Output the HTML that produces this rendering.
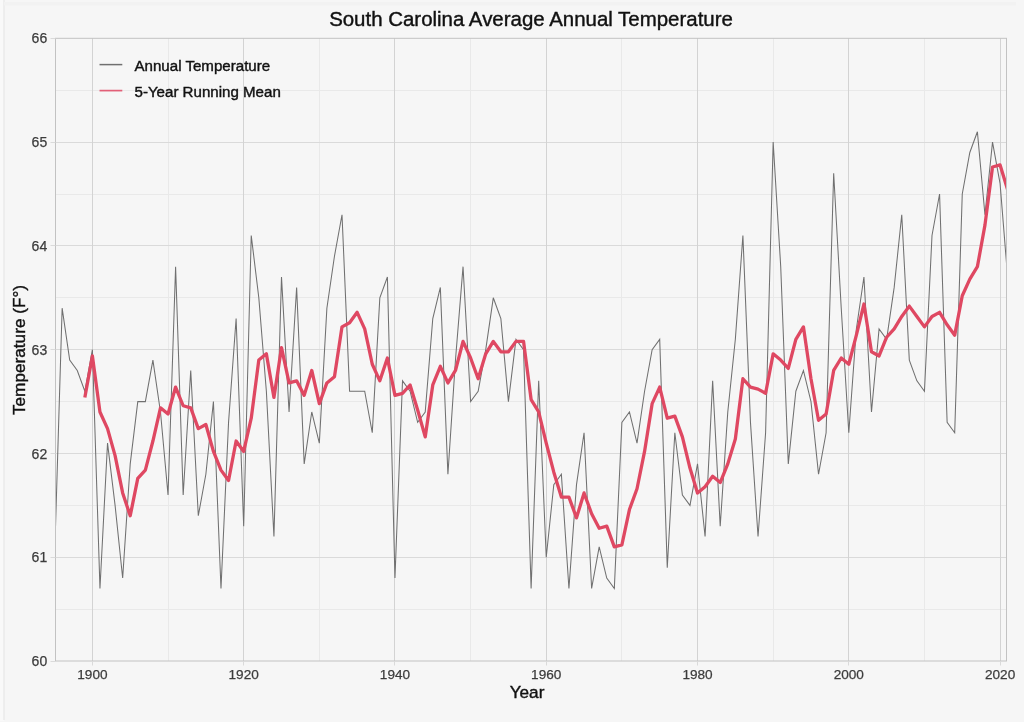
<!DOCTYPE html>
<html lang="en"><head><meta charset="utf-8"><title>South Carolina Average Annual Temperature</title>
<style>
html,body{margin:0;padding:0;background:#f6f6f6;}
body{width:1024px;height:722px;overflow:hidden;}
svg{display:block;font-family:"Liberation Sans",Arial,Helvetica,sans-serif;}
</style></head><body>
<svg width="1024" height="722" viewBox="0 0 1024 722">
<defs><clipPath id="plotclip"><rect x="55.5" y="38.3" width="951.0" height="622.7"/></clipPath></defs>
<rect x="0" y="0" width="1024" height="722" fill="#f6f6f6"/>
<rect x="0" y="0" width="4" height="721" fill="#f9f9f9"/>
<rect x="3.5" y="0" width="1" height="720" fill="#e3e3e3"/>
<rect x="4" y="2" width="1012" height="3.5" fill="#f2f2f2"/>
<g shape-rendering="auto">
<line x1="55.5" x2="1006.5" y1="609.5" y2="609.5" stroke="#e9e9e9" stroke-width="1"/>
<line x1="55.5" x2="1006.5" y1="505.5" y2="505.5" stroke="#e9e9e9" stroke-width="1"/>
<line x1="55.5" x2="1006.5" y1="401.5" y2="401.5" stroke="#e9e9e9" stroke-width="1"/>
<line x1="55.5" x2="1006.5" y1="297.5" y2="297.5" stroke="#e9e9e9" stroke-width="1"/>
<line x1="55.5" x2="1006.5" y1="194.5" y2="194.5" stroke="#e9e9e9" stroke-width="1"/>
<line x1="55.5" x2="1006.5" y1="90.5" y2="90.5" stroke="#e9e9e9" stroke-width="1"/>
<line x1="168.5" x2="168.5" y1="38.3" y2="661.0" stroke="#e9e9e9" stroke-width="1"/>
<line x1="319.5" x2="319.5" y1="38.3" y2="661.0" stroke="#e9e9e9" stroke-width="1"/>
<line x1="470.5" x2="470.5" y1="38.3" y2="661.0" stroke="#e9e9e9" stroke-width="1"/>
<line x1="621.5" x2="621.5" y1="38.3" y2="661.0" stroke="#e9e9e9" stroke-width="1"/>
<line x1="773.5" x2="773.5" y1="38.3" y2="661.0" stroke="#e9e9e9" stroke-width="1"/>
<line x1="924.5" x2="924.5" y1="38.3" y2="661.0" stroke="#e9e9e9" stroke-width="1"/>
<line x1="55.5" x2="1006.5" y1="557.5" y2="557.5" stroke="#dadada" stroke-width="1"/>
<line x1="55.5" x2="1006.5" y1="453.5" y2="453.5" stroke="#dadada" stroke-width="1"/>
<line x1="55.5" x2="1006.5" y1="349.5" y2="349.5" stroke="#dadada" stroke-width="1"/>
<line x1="55.5" x2="1006.5" y1="245.5" y2="245.5" stroke="#dadada" stroke-width="1"/>
<line x1="55.5" x2="1006.5" y1="142.5" y2="142.5" stroke="#dadada" stroke-width="1"/>
<line x1="92.5" x2="92.5" y1="38.3" y2="661.0" stroke="#d3d3d3" stroke-width="1"/>
<line x1="243.5" x2="243.5" y1="38.3" y2="661.0" stroke="#d3d3d3" stroke-width="1"/>
<line x1="394.5" x2="394.5" y1="38.3" y2="661.0" stroke="#d3d3d3" stroke-width="1"/>
<line x1="546.5" x2="546.5" y1="38.3" y2="661.0" stroke="#d3d3d3" stroke-width="1"/>
<line x1="697.5" x2="697.5" y1="38.3" y2="661.0" stroke="#d3d3d3" stroke-width="1"/>
<line x1="848.5" x2="848.5" y1="38.3" y2="661.0" stroke="#d3d3d3" stroke-width="1"/>
<line x1="1000.5" x2="1000.5" y1="38.3" y2="661.0" stroke="#d3d3d3" stroke-width="1"/>
</g>
<g clip-path="url(#plotclip)" fill="none" stroke-linejoin="miter">
<polyline points="54.58,557.30 62.14,308.18 69.71,360.08 77.27,370.46 84.84,391.22 92.40,349.70 99.96,588.44 107.53,443.12 115.09,505.40 122.66,578.06 130.22,463.88 137.78,401.60 145.35,401.60 152.91,360.08 160.48,411.98 168.04,495.02 175.60,266.66 183.17,495.02 190.73,370.46 198.30,515.78 205.86,474.26 213.42,401.60 220.99,588.44 228.55,422.36 236.12,318.56 243.68,526.16 251.24,235.52 258.81,297.80 266.37,391.22 273.94,536.54 281.50,277.04 289.06,411.98 296.63,287.42 304.19,463.88 311.76,411.98 319.32,443.12 326.88,308.18 334.45,256.28 342.01,214.76 349.58,391.22 357.14,391.22 364.70,391.22 372.27,432.74 379.83,297.80 387.40,277.04 394.96,578.06 402.52,380.84 410.09,391.22 417.65,422.36 425.22,411.98 432.78,318.56 440.34,287.42 447.91,474.26 455.47,360.08 463.04,266.66 470.60,401.60 478.16,391.22 485.73,349.70 493.29,297.80 500.86,318.56 508.42,401.60 515.98,339.32 523.55,349.70 531.11,588.44 538.68,380.84 546.24,557.30 553.80,484.64 561.37,474.26 568.93,588.44 576.50,484.64 584.06,432.74 591.62,588.44 599.19,546.92 606.75,578.06 614.32,588.44 621.88,422.36 629.44,411.98 637.01,443.12 644.57,391.22 652.14,349.70 659.70,339.32 667.26,567.68 674.83,432.74 682.39,495.02 689.96,505.40 697.52,463.88 705.08,536.54 712.65,380.84 720.21,526.16 727.78,411.98 735.34,339.32 742.90,235.52 750.47,422.36 758.03,536.54 765.60,432.74 773.16,142.10 780.72,266.66 788.29,463.88 795.85,391.22 803.42,370.46 810.98,401.60 818.54,474.26 826.11,432.74 833.67,173.24 841.24,308.18 848.80,432.74 856.36,328.94 863.93,277.04 871.49,411.98 879.06,328.94 886.62,339.32 894.18,287.42 901.75,214.76 909.31,360.08 916.88,380.84 924.44,391.22 932.00,235.52 939.57,194.00 947.13,422.36 954.70,432.74 962.26,194.00 969.82,152.48 977.39,131.72 984.95,214.76 992.52,142.10 1000.08,183.62 1007.64,277.04" stroke="#707070" stroke-width="1.05" stroke-linejoin="miter"/>
<polyline points="84.84,397.45 92.40,355.93 99.96,411.98 107.53,428.59 115.09,455.58 122.66,492.94 130.22,515.78 137.78,478.41 145.35,470.11 152.91,441.04 160.48,407.83 168.04,414.06 175.60,387.07 183.17,405.75 190.73,407.83 198.30,428.59 205.86,424.44 213.42,451.42 220.99,470.11 228.55,480.49 236.12,441.04 243.68,451.42 251.24,418.21 258.81,360.08 266.37,353.85 273.94,397.45 281.50,347.62 289.06,382.92 296.63,380.84 304.19,395.37 311.76,370.46 319.32,403.68 326.88,382.92 334.45,376.69 342.01,326.86 349.58,322.71 357.14,312.33 364.70,328.94 372.27,364.23 379.83,380.84 387.40,358.00 394.96,395.37 402.52,393.30 410.09,384.99 417.65,409.90 425.22,436.89 432.78,384.99 440.34,366.31 447.91,382.92 455.47,370.46 463.04,341.40 470.60,358.00 478.16,378.76 485.73,353.85 493.29,341.40 500.86,351.78 508.42,351.78 515.98,341.40 523.55,341.40 531.11,399.52 538.68,411.98 546.24,443.12 553.80,472.18 561.37,497.10 568.93,497.10 576.50,517.86 584.06,492.94 591.62,513.70 599.19,528.24 606.75,526.16 614.32,546.92 621.88,544.84 629.44,509.55 637.01,488.79 644.57,451.42 652.14,403.68 659.70,387.07 667.26,418.21 674.83,416.13 682.39,436.89 689.96,468.03 697.52,492.94 705.08,486.72 712.65,476.34 720.21,482.56 727.78,463.88 735.34,438.97 742.90,378.76 750.47,387.07 758.03,389.14 765.60,393.30 773.16,353.85 780.72,360.08 788.29,368.38 795.85,339.32 803.42,326.86 810.98,378.76 818.54,420.28 826.11,414.06 833.67,370.46 841.24,358.00 848.80,364.23 856.36,335.17 863.93,304.03 871.49,351.78 879.06,355.93 886.62,337.24 894.18,328.94 901.75,316.48 909.31,306.10 916.88,316.48 924.44,326.86 932.00,316.48 939.57,312.33 947.13,324.79 954.70,335.17 962.26,295.72 969.82,279.12 977.39,266.66 984.95,225.14 992.52,167.01 1000.08,164.94 1007.64,189.85" stroke="rgb(223,72,98)" stroke-width="3.3" stroke-linejoin="round" stroke-linecap="butt"/>
</g>
<rect x="55.5" y="38.3" width="951.0" height="622.7" fill="none" stroke="#c2c2c2" stroke-width="1"/>
<line x1="50.5" x2="55.5" y1="661.5" y2="661.5" stroke="#dadada" stroke-width="1"/>
<text x="47.2" y="666.10" text-anchor="end" font-size="14.0" fill="#3c3c3c" stroke="#3c3c3c" stroke-width="0.25">60</text>
<line x1="50.5" x2="55.5" y1="557.5" y2="557.5" stroke="#dadada" stroke-width="1"/>
<text x="47.2" y="562.30" text-anchor="end" font-size="14.0" fill="#3c3c3c" stroke="#3c3c3c" stroke-width="0.25">61</text>
<line x1="50.5" x2="55.5" y1="453.5" y2="453.5" stroke="#dadada" stroke-width="1"/>
<text x="47.2" y="458.50" text-anchor="end" font-size="14.0" fill="#3c3c3c" stroke="#3c3c3c" stroke-width="0.25">62</text>
<line x1="50.5" x2="55.5" y1="349.5" y2="349.5" stroke="#dadada" stroke-width="1"/>
<text x="47.2" y="354.70" text-anchor="end" font-size="14.0" fill="#3c3c3c" stroke="#3c3c3c" stroke-width="0.25">63</text>
<line x1="50.5" x2="55.5" y1="245.5" y2="245.5" stroke="#dadada" stroke-width="1"/>
<text x="47.2" y="250.90" text-anchor="end" font-size="14.0" fill="#3c3c3c" stroke="#3c3c3c" stroke-width="0.25">64</text>
<line x1="50.5" x2="55.5" y1="142.5" y2="142.5" stroke="#dadada" stroke-width="1"/>
<text x="47.2" y="147.10" text-anchor="end" font-size="14.0" fill="#3c3c3c" stroke="#3c3c3c" stroke-width="0.25">65</text>
<line x1="50.5" x2="55.5" y1="38.5" y2="38.5" stroke="#dadada" stroke-width="1"/>
<text x="47.2" y="43.30" text-anchor="end" font-size="14.0" fill="#3c3c3c" stroke="#3c3c3c" stroke-width="0.25">66</text>
<line x1="92.5" x2="92.5" y1="661.0" y2="665.5" stroke="#dadada" stroke-width="1"/>
<text x="92.40" y="678.80" text-anchor="middle" font-size="13.6" fill="#3c3c3c" stroke="#3c3c3c" stroke-width="0.25">1900</text>
<line x1="243.5" x2="243.5" y1="661.0" y2="665.5" stroke="#dadada" stroke-width="1"/>
<text x="243.68" y="678.80" text-anchor="middle" font-size="13.6" fill="#3c3c3c" stroke="#3c3c3c" stroke-width="0.25">1920</text>
<line x1="394.5" x2="394.5" y1="661.0" y2="665.5" stroke="#dadada" stroke-width="1"/>
<text x="394.96" y="678.80" text-anchor="middle" font-size="13.6" fill="#3c3c3c" stroke="#3c3c3c" stroke-width="0.25">1940</text>
<line x1="546.5" x2="546.5" y1="661.0" y2="665.5" stroke="#dadada" stroke-width="1"/>
<text x="546.24" y="678.80" text-anchor="middle" font-size="13.6" fill="#3c3c3c" stroke="#3c3c3c" stroke-width="0.25">1960</text>
<line x1="697.5" x2="697.5" y1="661.0" y2="665.5" stroke="#dadada" stroke-width="1"/>
<text x="697.52" y="678.80" text-anchor="middle" font-size="13.6" fill="#3c3c3c" stroke="#3c3c3c" stroke-width="0.25">1980</text>
<line x1="848.5" x2="848.5" y1="661.0" y2="665.5" stroke="#dadada" stroke-width="1"/>
<text x="848.80" y="678.80" text-anchor="middle" font-size="13.6" fill="#3c3c3c" stroke="#3c3c3c" stroke-width="0.25">2000</text>
<line x1="1000.5" x2="1000.5" y1="661.0" y2="665.5" stroke="#dadada" stroke-width="1"/>
<text x="1000.08" y="678.80" text-anchor="middle" font-size="13.6" fill="#3c3c3c" stroke="#3c3c3c" stroke-width="0.25">2020</text>
<text x="531" y="25.6" text-anchor="middle" font-size="20.45" fill="#111" stroke="#111" stroke-width="0.4">South Carolina Average Annual Temperature</text>
<text x="527" y="697.5" text-anchor="middle" font-size="17.2" fill="#111" stroke="#111" stroke-width="0.4">Year</text>
<text transform="translate(24.5,350) rotate(-90)" text-anchor="middle" font-size="17.2" fill="#111" stroke="#111" stroke-width="0.4">Temperature (F°)</text>
<line x1="99.5" x2="122.3" y1="64.6" y2="64.6" stroke="#707070" stroke-width="1.5"/>
<text x="134.5" y="70.5" font-size="15.1" fill="#111" stroke="#111" stroke-width="0.4">Annual Temperature</text>
<line x1="99.5" x2="122.3" y1="90.6" y2="90.6" stroke="rgb(226,96,120)" stroke-width="1.7"/>
<text x="134.5" y="96.8" font-size="15.1" fill="#111" stroke="#111" stroke-width="0.4">5-Year Running Mean</text>
</svg>
</body></html>
